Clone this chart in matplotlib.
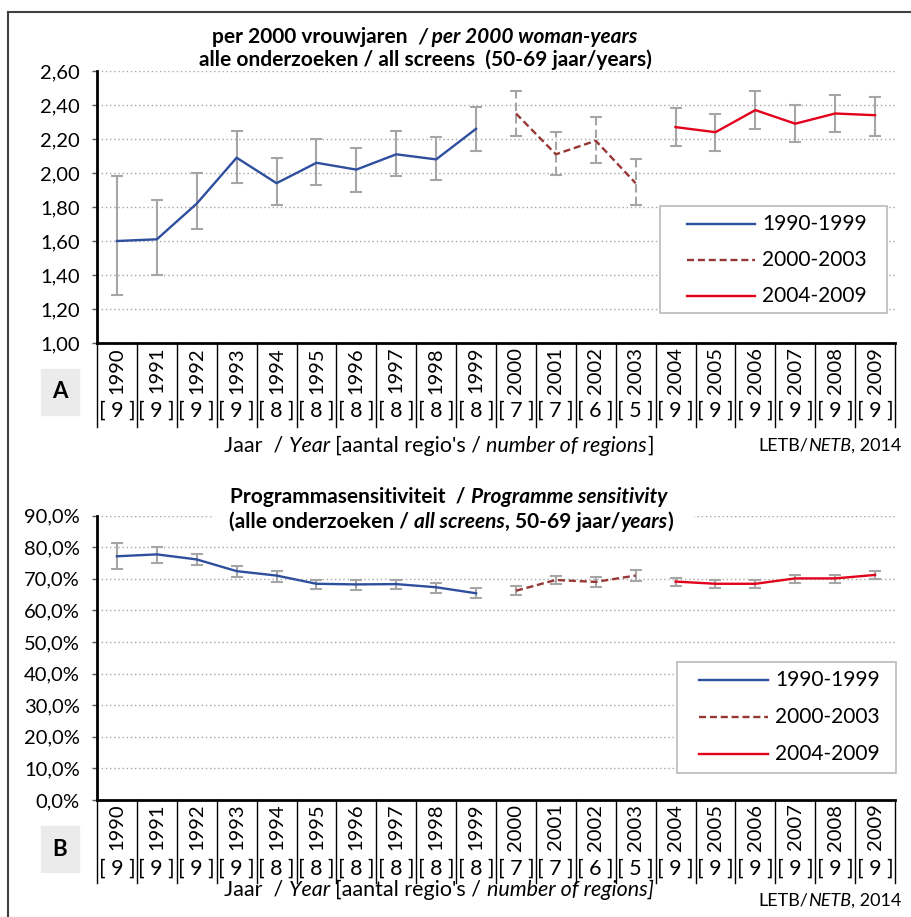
import matplotlib
matplotlib.use("Agg")
import matplotlib.pyplot as plt
from matplotlib.lines import Line2D
from matplotlib.patches import Rectangle
import numpy as np

plt.rcParams['font.family'] = ['Lato', 'DejaVu Sans']

years = ['1990', '1991', '1992', '1993', '1994', '1995', '1996', '1997', '1998', '1999',
         '2000', '2001', '2002', '2003', '2004', '2005', '2006', '2007', '2008', '2009']
regions = [9, 9, 9, 9, 8, 8, 8, 8, 8, 8, 7, 7, 6, 5, 9, 9, 9, 9, 9, 9]

# detection rate per 2000 woman-years with confidence limits
rate = [1.60, 1.61, 1.82, 2.09, 1.94, 2.06, 2.02, 2.11, 2.08, 2.26,
        2.35, 2.11, 2.19, 1.94, 2.27, 2.24, 2.37, 2.29, 2.35, 2.34]
rate_lo = [1.28, 1.40, 1.67, 1.94, 1.81, 1.93, 1.89, 1.98, 1.96, 2.13,
           2.22, 1.99, 2.06, 1.81, 2.16, 2.13, 2.26, 2.18, 2.24, 2.22]
rate_hi = [1.98, 1.84, 2.00, 2.25, 2.09, 2.20, 2.15, 2.25, 2.21, 2.39,
           2.48, 2.24, 2.33, 2.08, 2.38, 2.35, 2.48, 2.40, 2.46, 2.45]

# programme sensitivity (%) with confidence limits
sens = [77.1, 77.7, 76.1, 72.4, 71.0, 68.4, 68.2, 68.3, 67.3, 65.4,
        66.2, 69.6, 69.0, 71.0, 69.1, 68.4, 68.4, 70.1, 70.1, 71.2]
sens_lo = [73.2, 75.1, 74.2, 70.7, 69.1, 66.6, 66.4, 66.6, 65.6, 63.8,
           64.7, 68.3, 67.4, 69.2, 67.8, 67.1, 67.1, 68.8, 68.8, 70.0]
sens_hi = [81.4, 80.1, 77.9, 74.0, 72.6, 69.7, 69.6, 69.6, 68.7, 67.0,
           67.8, 71.0, 70.4, 72.8, 70.2, 69.6, 69.7, 71.1, 71.1, 72.4]

periods = ['1990-1999', '2000-2003', '2004-2009']
period_idx = [(0, 10), (10, 14), (14, 20)]
colors = ['#2E4E9E', '#953735', '#E3001B']
styles = ['-', '--', '-']

W, H = 911, 917
fig = plt.figure(figsize=(W / 100, H / 100), dpi=100)


def fx(px):
    return px / W


def fy(py):
    return 1 - py / H


def rich_line(xc, y, parts, size, center=True):
    # draw a line of text made of differently styled pieces
    r = fig.canvas.get_renderer()
    texts = []
    for s, style, weight in parts:
        t = fig.text(0, fy(y), s, fontsize=size, style=style, weight=weight,
                     va='center', ha='left', zorder=5)
        texts.append(t)
    widths = [t.get_window_extent(r).width for t in texts]
    x = xc - sum(widths) / 2 if center else xc
    for t, w in zip(texts, widths):
        t.set_x(fx(x))
        x += w


def draw_panel(ax, vals, lo, hi, dashed_err):
    x = np.arange(len(years))
    vals, lo, hi = np.array(vals), np.array(lo), np.array(hi)
    for (a, b), c, ls in zip(period_idx, colors, styles):
        eb = ax.errorbar(x[a:b], vals[a:b], yerr=[vals[a:b] - lo[a:b], hi[a:b] - vals[a:b]],
                         fmt='none', ecolor='#A6A6A6', elinewidth=1.5, capsize=4.2, capthick=1.5,
                         zorder=2)
        if ls == '--' and dashed_err:
            eb[2][0].set_linestyle((0, (4, 2)))
        ax.plot(x[a:b], vals[a:b], color=c, lw=1.7, ls=ls, zorder=3,
                dashes=(3, 1.6) if ls == '--' else (None, None))
    ax.set_xlim(-0.5, len(years) - 0.5)
    ax.set_xticks([])
    ax.yaxis.grid(True, color='#A6A6A6', ls=(0, (1, 2)), lw=1)
    ax.set_axisbelow(True)
    for s in ['top', 'right']:
        ax.spines[s].set_visible(False)
    ax.spines['left'].set_linewidth(2)
    ax.spines['bottom'].set_linewidth(2)
    ax.tick_params(axis='y', length=3.5, width=1, pad=9, labelsize=14.5, color='#555555')


def category_axis(ax, sep_len, year_y, reg_y):
    trans = ax.get_xaxis_transform()
    for i in range(len(years) + 1):
        ax.plot([i - 0.5, i - 0.5], [0, -sep_len], color='black', lw=1,
                transform=trans, clip_on=False)
    for i, (yr, n) in enumerate(zip(years, regions)):
        ax.text(i, year_y, yr, rotation=90, ha='center', va='center', fontsize=14.5,
                transform=trans)
        ax.text(i, reg_y, '[ %d ]' % n, ha='center', va='center', fontsize=15.5,
                transform=trans)


def panel_tag(letter, yc):
    fig.add_artist(Rectangle((fx(41), fy(yc + 23)), 38 / W, 46 / H,
                             transform=fig.transFigure, color='#EBEBEB', zorder=1))
    fig.text(fx(60), fy(yc), letter, fontsize=16, weight='bold', ha='center', va='center')


def legend_box(x0, y0, x1, y1, rows, lx0, lx1, tx):
    fig.add_artist(Rectangle((fx(x0), fy(y1)), (x1 - x0) / W, (y1 - y0) / H,
                             transform=fig.transFigure, facecolor='white',
                             edgecolor='#BFBFBF', lw=1.3, zorder=4))
    for ry, lab, c, ls in zip(rows, periods, colors, styles):
        ln = Line2D([fx(lx0), fx(lx1)], [fy(ry), fy(ry)], color=c, lw=1.7, ls=ls,
                    transform=fig.transFigure, zorder=5)
        if ls == '--':
            ln.set_dashes((3, 1.6))
        fig.add_artist(ln)
        fig.text(fx(tx), fy(ry), lab, fontsize=15, ha='left', va='center', zorder=5)


# outer frame
fig.add_artist(Line2D([fx(8), fx(8)], [0, fy(12)], color='#404040', lw=1.5))
fig.add_artist(Line2D([fx(8), 1], [fy(12), fy(12)], color='#404040', lw=1.5))

# panel A: detection rate
ax1 = fig.add_axes([fx(97), fy(343), fx(895) - fx(97), fy(71) - fy(343)])
draw_panel(ax1, rate, rate_lo, rate_hi, True)
ax1.set_ylim(1.0, 2.6)
ax1.set_yticks(np.arange(1.0, 2.61, 0.2))
ax1.set_yticklabels([('%.2f' % v).replace('.', ',') for v in np.arange(1.0, 2.61, 0.2)])
category_axis(ax1, 84 / 272, -0.10, -0.25)
legend_box(660, 206, 887, 313, [224, 260, 296], 687, 755, 762)

rich_line(425, 37, [('per 2000 vrouwjaren  ', 'normal', 'bold'),
                    ('/ per 2000 woman-years', 'italic', 'bold')], 15)
rich_line(425, 60, [('alle onderzoeken / all screens  (50-69 jaar/years)', 'normal', 'bold')], 15)
rich_line(439, 446, [('Jaar  / ', 'normal', 'normal'), ('Year ', 'italic', 'normal'),
                     ("[aantal regio's / ", 'normal', 'normal'),
                     ('number of regions', 'italic', 'normal'), (']', 'normal', 'normal')], 15.5)
rich_line(758, 446, [('LETB/', 'normal', 'normal'), ('NETB', 'italic', 'normal'),
                     (', 2014', 'normal', 'normal')], 13, center=False)
panel_tag('A', 392)

# panel B: programme sensitivity
ax2 = fig.add_axes([fx(97), fy(800), fx(895) - fx(97), fy(515.5) - fy(800)])
draw_panel(ax2, sens, sens_lo, sens_hi, False)
ax2.set_ylim(0, 90)
ax2.set_yticks(np.arange(0, 91, 10))
ax2.set_yticklabels([('%.1f%%' % v).replace('.', ',') for v in np.arange(0, 91, 10)])
category_axis(ax2, 83 / 285, -0.095, -0.243)
legend_box(677, 662, 896, 773, [680, 717, 754], 699, 768, 775)

# white band behind the second title line
fig.add_artist(Rectangle((fx(213), fy(534)), 480 / W, 26 / H,
                         transform=fig.transFigure, color='white', zorder=4))
rich_line(449, 497, [('Programmasensitiviteit  / ', 'normal', 'bold'),
                     ('Programme sensitivity', 'italic', 'bold')], 15)
rich_line(451, 522, [('(alle onderzoeken / ', 'normal', 'bold'), ('all screens', 'italic', 'bold'),
                     (', 50-69 jaar/', 'normal', 'bold'), ('years', 'italic', 'bold'),
                     (')', 'normal', 'bold')], 15)
rich_line(439, 890, [('Jaar  / ', 'normal', 'normal'), ('Year ', 'italic', 'normal'),
                     ("[aantal regio's / ", 'normal', 'normal'),
                     ('number of regions]', 'italic', 'normal')], 15.5)
rich_line(758, 901, [('LETB/', 'normal', 'normal'), ('NETB', 'italic', 'normal'),
                     (', 2014', 'normal', 'normal')], 13, center=False)
panel_tag('B', 849)

fig.savefig('out.png', dpi=100)
